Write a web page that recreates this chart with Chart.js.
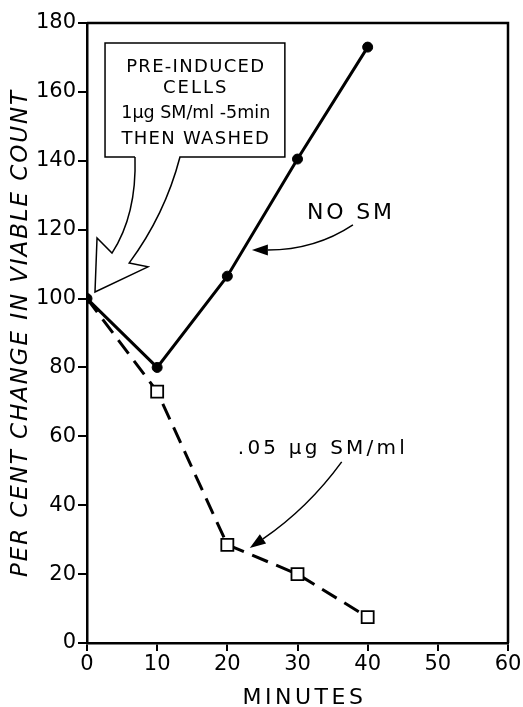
<!DOCTYPE html>
<html>
<head>
<meta charset="utf-8">
<script src="https://cdn.jsdelivr.net/npm/chart.js@4/dist/chart.umd.min.js"></script>
<style>
html, body { margin: 0; padding: 0; background: #fff; }
#wrap { width: 523px; height: 707px; }
</style>
</head>
<body>
<div id="wrap"><canvas id="chart" width="523" height="707"></canvas></div>
<script>
// Data
const minutes = [0, 10, 20, 30, 40];
const noSM = [100, 80, 106.5, 140.5, 173];
const sm05 = [100, 73, 28.5, 20, 7.5];
const xTicks = [0, 10, 20, 30, 40, 50, 60];
const yTicks = [0, 20, 40, 60, 80, 100, 120, 140, 160, 180];

const FONT = '"DejaVu Sans", sans-serif';

function toPoints(ys) {
    return minutes.map(function(m, i) { return { x: m, y: ys[i] }; });
}

// Frame, axis titles and the call-outs
const annotations = {
    id: 'annotations',
    afterDraw: function(chart) {
        const ctx = chart.ctx;
        const xs = chart.scales.x;
        const ys = chart.scales.y;
        const area = chart.chartArea;
        const P = function(x, y) { return [xs.getPixelForValue(x), ys.getPixelForValue(y)]; };

        ctx.save();
        ctx.strokeStyle = '#000';
        ctx.fillStyle = '#000';

        // top and right sides of the frame
        ctx.lineWidth = 2.5;
        ctx.beginPath();
        ctx.moveTo(area.left, area.top);
        ctx.lineTo(area.right, area.top);
        ctx.lineTo(area.right, area.bottom);
        ctx.stroke();

        // axis titles
        ctx.textAlign = 'center';
        ctx.textBaseline = 'middle';
        ctx.font = '22px ' + FONT;
        ctx.letterSpacing = '3.5px';
        ctx.fillText('MINUTES', (area.left + area.right) / 2 + 7, 698);

        ctx.save();
        ctx.translate(21, (area.top + area.bottom) / 2);
        ctx.rotate(-Math.PI / 2);
        ctx.font = 'italic 23px ' + FONT;
        ctx.letterSpacing = '1.9px';
        ctx.fillText('PER CENT CHANGE IN VIABLE COUNT', 0, 0);
        ctx.restore();

        // box with open arrow pointing at the first point
        ctx.lineWidth = 1.5;
        ctx.lineJoin = 'miter';
        ctx.beginPath();
        ctx.moveTo.apply(ctx, P(6.84, 141.1));
        ctx.lineTo.apply(ctx, P(2.57, 141.1));
        ctx.lineTo.apply(ctx, P(2.57, 174.2));
        ctx.lineTo.apply(ctx, P(28.2, 174.2));
        ctx.lineTo.apply(ctx, P(28.2, 141.1));
        ctx.lineTo.apply(ctx, P(13.25, 141.1));
        ctx.quadraticCurveTo.apply(ctx, P(11.1, 124.3).concat(P(6.0, 110.3)));
        ctx.lineTo.apply(ctx, P(8.69, 109.2));
        ctx.lineTo.apply(ctx, P(1.14, 101.9));
        ctx.lineTo.apply(ctx, P(1.43, 117.6));
        ctx.lineTo.apply(ctx, P(3.56, 113.2));
        ctx.quadraticCurveTo.apply(ctx, P(7.1, 124.3).concat(P(6.84, 141.1)));
        ctx.stroke();

        ctx.textAlign = 'center';
        const boxLines = [
            ['PRE-INDUCED', 167.0, 18, '1.3px'],
            ['CELLS', 161.1, 18, '2px'],
            ['1\u00b5g SM/ml -5min', 153.6, 17.5, '0px'],
            ['THEN WASHED', 146.3, 18, '1.3px']
        ];
        boxLines.forEach(function(l) {
            ctx.font = l[2] + 'px ' + FONT;
            ctx.letterSpacing = l[3];
            const p = P(15.5, l[1]);
            ctx.fillText(l[0], p[0], p[1]);
        });

        // curved arrows with solid heads
        function arrow(start, ctrl, tip) {
            const s = P(start[0], start[1]);
            const c = P(ctrl[0], ctrl[1]);
            const t = P(tip[0], tip[1]);
            const ang = Math.atan2(t[1] - c[1], t[0] - c[0]);
            const len = 16, half = 5.5;
            const bx = t[0] - len * Math.cos(ang), by = t[1] - len * Math.sin(ang);
            ctx.lineWidth = 1.5;
            ctx.beginPath();
            ctx.moveTo(s[0], s[1]);
            ctx.quadraticCurveTo(c[0], c[1], bx, by);
            ctx.stroke();
            ctx.beginPath();
            ctx.moveTo(t[0], t[1]);
            ctx.lineTo(bx + half * Math.sin(ang), by - half * Math.cos(ang));
            ctx.lineTo(bx - half * Math.sin(ang), by + half * Math.cos(ang));
            ctx.closePath();
            ctx.fill();
        }

        ctx.font = '22px ' + FONT;
        ctx.letterSpacing = '2.8px';
        ctx.textAlign = 'center';
        const n = P(37.6, 124.9);
        ctx.fillText('NO SM', n[0], n[1]);
        arrow([37.9, 121.4], [32.5, 114.1], [23.5, 114.1]);

        ctx.font = '20px ' + FONT;
        ctx.letterSpacing = '3.2px';
        ctx.textAlign = 'left';
        const s = P(21.5, 56.3);
        ctx.fillText('.05 \u00b5g SM/ml', s[0], s[1]);
        arrow([36.3, 52.6], [31.5, 39.2], [23.2, 27.6]);

        ctx.restore();
    }
};

new Chart(document.getElementById('chart'), {
    type: 'line',
    data: {
        datasets: [{
            label: 'No SM',
            data: toPoints(noSM),
            order: 1,
            borderColor: '#000',
            borderWidth: 3,
            pointStyle: 'circle',
            pointRadius: 5,
            pointBackgroundColor: '#000',
            pointBorderColor: '#000',
            pointBorderWidth: 1,
            tension: 0
        }, {
            label: '.05 \u00b5g SM/ml',
            data: toPoints(sm05),
            order: 2,
            borderColor: '#000',
            borderWidth: 3,
            borderDash: [17, 9],
            pointStyle: 'rect',
            pointRadius: [0, 8.5, 8.5, 8.5, 8.5],
            pointBackgroundColor: '#fff',
            pointBorderColor: '#000',
            pointBorderWidth: 1.8,
            tension: 0
        }]
    },
    options: {
        responsive: false,
        animation: false,
        devicePixelRatio: 1,
        layout: { padding: { left: 0, top: 23, right: 15, bottom: 0 } },
        plugins: {
            legend: { display: false },
            tooltip: { enabled: false }
        },
        scales: {
            x: {
                type: 'linear',
                min: 0,
                max: 60,
                afterBuildTicks: function(scale) {
                    scale.ticks = xTicks.map(function(v) { return { value: v }; });
                },
                afterFit: function(scale) { scale.height = 64; },
                ticks: {
                    color: '#000',
                    font: { family: FONT, size: 21 },
                    padding: 1,
                    maxRotation: 0
                },
                grid: {
                    drawOnChartArea: false,
                    drawTicks: true,
                    tickLength: 8,
                    color: '#000',
                    lineWidth: 2
                },
                border: { display: true, color: '#000', width: 2.5 }
            },
            y: {
                min: 0,
                max: 180,
                afterBuildTicks: function(scale) {
                    scale.ticks = yTicks.map(function(v) { return { value: v }; });
                },
                afterFit: function(scale) { scale.width = 87; },
                ticks: {
                    color: '#000',
                    font: { family: FONT, size: 21 },
                    padding: 2
                },
                grid: {
                    drawOnChartArea: false,
                    drawTicks: true,
                    tickLength: 9,
                    color: '#000',
                    lineWidth: 2
                },
                border: { display: true, color: '#000', width: 2.5 }
            }
        }
    },
    plugins: [annotations]
});
</script>
</body>
</html>
